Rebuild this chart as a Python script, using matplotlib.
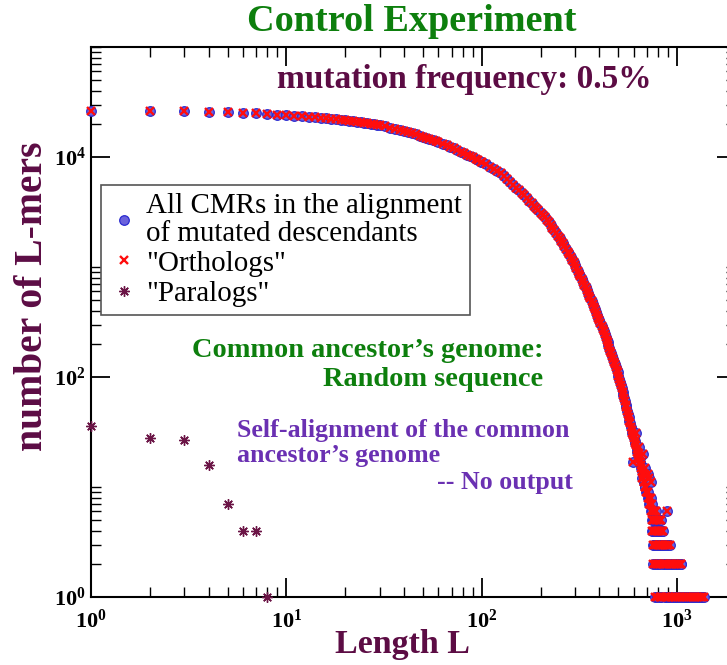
import matplotlib
matplotlib.use('Agg')
import matplotlib.pyplot as plt
from matplotlib.ticker import FixedLocator, FixedFormatter, NullFormatter

plt.rcParams['font.family'] = ['Liberation Serif', 'DejaVu Serif']
plt.rcParams['mathtext.fontset'] = 'custom'
plt.rcParams['mathtext.rm'] = 'Liberation Serif:bold'
plt.rcParams['mathtext.bf'] = 'Liberation Serif:bold'
plt.rcParams['mathtext.it'] = 'Liberation Serif:bold:italic'
plt.rcParams['mathtext.default'] = 'bf'

# ---------------- data ----------------
curve_L = [1, 2, 3, 4, 5, 6, 7, 8, 9, 10, 11, 12, 13, 14, 15, 16, 17, 18, 19, 20,
           21, 22, 23, 24, 25, 26, 27, 28, 29, 30,
           32, 34, 36, 38, 40, 42, 44, 46, 48, 50, 52, 54, 56, 58, 60,
           63, 66, 69, 72, 75, 78, 81, 84, 87, 90, 93, 96, 99,
           100, 105, 110, 115, 120, 125, 130, 135, 140, 145, 150, 155, 160, 165, 170,
           175, 180, 185, 190, 195, 200, 205, 210, 215, 220, 225, 230, 235, 240, 245,
           250, 255, 260, 265, 270, 275, 280, 285, 290, 295, 300,
           305, 310, 315, 320, 325, 330, 335, 340, 345, 350, 355, 360, 365, 370, 375,
           380, 385, 390, 395, 400, 405, 410, 415, 420, 425, 430, 435, 440, 445, 450,
           455, 460, 465, 470, 475, 480, 485, 490, 495,
           500, 505, 510, 515, 520, 525, 530, 535, 540, 545, 550, 555, 560, 565, 570,
           575, 580,
           585, 590, 595, 600, 605, 610, 615, 620, 625, 630, 635, 640, 645, 650, 655,
           660, 665, 670, 675, 680, 685, 690, 695, 700]
curve_N = [26420, 26120, 26000, 25820, 25590, 25290, 24950, 24600, 24320, 24040,
           23770, 23550, 23280, 23010, 22800, 22540, 22340, 22080, 21880, 21630,
           21430, 21180, 20990, 20750, 20560, 20320, 20140, 19910, 19720, 19500,
           19010, 18530, 18030, 17580, 17180, 16790, 16410, 16030, 15670, 15310,
           14960, 14620, 14290, 13960, 13650,
           13210, 12760, 12360, 11970, 11560, 11190, 10810, 10470, 10180, 9910,
           9620, 9350, 9100,
           9020, 8590, 8190, 7800, 7430, 7080, 6670, 6280, 5900, 5560, 5270, 4990,
           4730, 4480, 4250, 4020, 3810, 3620, 3440, 3270, 3120, 2960, 2820, 2680,
           2540, 2400, 2280, 2150, 2040, 1930, 1830, 1730, 1640, 1550, 1460, 1380,
           1300, 1230, 1160, 1100, 1040,
           977, 923, 871, 822, 776, 733, 692, 653, 617, 582, 550, 519, 490, 462, 437,
           412, 389, 367, 347, 327, 309, 292, 275, 260, 245, 232, 219, 207, 195, 184,
           174, 164, 155, 146, 138, 130, 123, 116, 110,
           103, 96, 90, 84, 79, 73, 69, 64, 60, 56, 53, 49, 46, 43, 40, 38, 35,
           33, 31, 30, 28, 26, 25, 24, 22, 21, 20, 19, 18, 17, 16, 15, 14, 13, 12,
           11, 11, 10, 10, 9, 9]

scatter_L = [591, 617, 641, 653, 662, 672, 681, 688, 697, 706, 718, 731]
scatter_N = [17, 31, 23, 19, 12, 20, 10, 15, 9, 13, 12, 11]

tail_L = [703, 712,
          708, 716, 724, 737,
          721, 727, 742,
          733, 746, 757, 768, 779, 889,
          739, 751, 763, 776, 789, 803, 816, 829,
          744, 755, 772, 784, 797, 811, 826, 838, 846,
          749, 761, 782, 794, 808, 821, 834, 851, 868, 883, 899, 917,
          753, 766, 787, 801, 818, 843, 857, 873, 892, 908, 927, 946, 963, 984,
          1003, 1022, 1041, 1052,
          774, 792, 813, 831, 862, 878, 896, 912, 933, 955, 971, 991, 1012, 1034,
          1061, 1083, 1104, 1127, 1151, 1178, 1203, 1232, 1260, 1288, 1317, 1346, 1372]
tail_N = [9, 9,
          8, 8, 8, 8,
          7, 7, 7,
          6, 6, 6, 6, 6, 6,
          5, 5, 5, 5, 5, 5, 5, 5,
          4, 4, 4, 4, 4, 4, 4, 4, 4,
          3, 3, 3, 3, 3, 3, 3, 3, 3, 3, 3, 3,
          2, 2, 2, 2, 2, 2, 2, 2, 2, 2, 2, 2, 2, 2, 2, 2, 2, 2,
          1, 1, 1, 1, 1, 1, 1, 1, 1, 1, 1, 1, 1, 1,
          1, 1, 1, 1, 1, 1, 1, 1, 1, 1, 1, 1, 1]

cmr_L = curve_L + scatter_L + tail_L
cmr_N = curve_N + scatter_N + tail_N
orth_L = cmr_L
orth_N = cmr_N

para_L = [1, 2, 3, 4, 5, 6, 7, 8]
para_N = [36, 28, 27, 16, 7, 4, 4, 1]

x_major = [1, 10, 100, 1000]
x_labels = [r'$10^{0}$', r'$10^{1}$', r'$10^{2}$', r'$10^{3}$']
y_major = [1, 100, 10000]
y_labels = [r'$10^{0}$', r'$10^{2}$', r'$10^{4}$']

# ---------------- colours ----------------
GREEN = '#0d7f0d'
MAROON = '#5c0c44'
PURPLE = '#6a30b2'

W, H = 727, 665
fig = plt.figure(figsize=(W / 100, H / 100), dpi=100)
ax = fig.add_axes([91 / W, 68 / H, 645 / W, 550 / H])
ax.set_xscale('log')
ax.set_yscale('log')
ax.set_xlim(1, 2000)
ax.set_ylim(1, 1e5)

ax.plot(cmr_L, cmr_N, ls='none', marker='o', ms=6.9, mfc='#6b62dc', mec='#2a2ad0',
        mew=0.9, clip_on=False, zorder=3,
        label='All CMRs in the alignment\nof mutated descendants')
ax.plot(orth_L, orth_N, ls='none', marker='x', ms=5.2, mec='#ff0d0d', mew=1.7,
        clip_on=False, zorder=4, label='"Orthologs"')
ax.plot(para_L, para_N, ls='none', marker=(8, 2, 0), ms=7.5, mec='#6b1546',
        mew=1.0, clip_on=False, zorder=5, label='"Paralogs"')

# ticks
ax.xaxis.set_major_locator(FixedLocator(x_major))
ax.xaxis.set_major_formatter(FixedFormatter(x_labels))
ax.xaxis.set_minor_locator(FixedLocator([k * 10 ** m for m in range(4) for k in range(2, 10)
                                          if k * 10 ** m < 2000]))
ax.xaxis.set_minor_formatter(NullFormatter())
ax.yaxis.set_major_locator(FixedLocator(y_major))
ax.yaxis.set_major_formatter(FixedFormatter(y_labels))
ax.yaxis.set_minor_locator(FixedLocator([k * 10 ** m for m in (0, 2, 4) for k in range(2, 11)]))
ax.yaxis.set_minor_formatter(NullFormatter())
ax.tick_params(which='major', direction='in', length=14, width=1.3, top=True, right=True,
               labelsize=16, colors='black')
ax.tick_params(axis='x', which='major', pad=9)
ax.tick_params(axis='y', which='major', pad=4)
ax.tick_params(which='minor', direction='in', length=7, width=1.0, top=True, right=True)
for s in ax.spines.values():
    s.set_linewidth(1.5)

# axis labels
ax.set_xlabel('Length L', fontsize=24.5, fontweight='bold', color=MAROON)
ax.xaxis.set_label_coords((402 - 91) / 645, -(645 - 597) / 550)
ax.xaxis.label.set_va('center')
ax.set_ylabel('number of L-mers', fontsize=28.5, fontweight='bold', color=MAROON)
ax.yaxis.set_label_coords((33 - 91) / 645, (597 - 296) / 550)
ax.yaxis.label.set_va('center')

# legend
leg = ax.legend(loc='upper left', bbox_to_anchor=(101 / W, 1 - 185 / H),
                bbox_transform=fig.transFigure, borderaxespad=0, fancybox=False,
                edgecolor='#555555', framealpha=1, prop={'family': 'Liberation Serif', 'size': 20.9},
                handlelength=1.0, handletextpad=0.28, borderpad=0.28, labelspacing=0.13)
leg.get_frame().set_linewidth(1.2)
for t in leg.get_texts():
    t.set_linespacing(1.07)

# texts
fig.text(412 / W, 1 - 31 / H, 'Control Experiment', ha='center', va='baseline',
         fontsize=27.5, fontweight='bold', color=GREEN)
fig.text(277 / W, 1 - 88 / H, 'mutation frequency: 0.5%', ha='left', va='baseline',
         fontsize=24, fontweight='bold', color=MAROON)
fig.text(192 / W, 1 - 357 / H, 'Common ancestor\u2019s genome:', ha='left', va='baseline',
         fontsize=20.4, fontweight='bold', color=GREEN)
fig.text(543 / W, 1 - 386 / H, 'Random sequence', ha='right', va='baseline',
         fontsize=20.4, fontweight='bold', color=GREEN)
fig.text(237 / W, 1 - 437 / H, 'Self-alignment of the common', ha='left', va='baseline',
         fontsize=18.6, fontweight='bold', color=PURPLE)
fig.text(237 / W, 1 - 462 / H, 'ancestor\u2019s genome', ha='left', va='baseline',
         fontsize=18.6, fontweight='bold', color=PURPLE)
fig.text(573 / W, 1 - 489 / H, '-- No output', ha='right', va='baseline',
         fontsize=18.6, fontweight='bold', color=PURPLE)

fig.savefig('out.png', dpi=100)
